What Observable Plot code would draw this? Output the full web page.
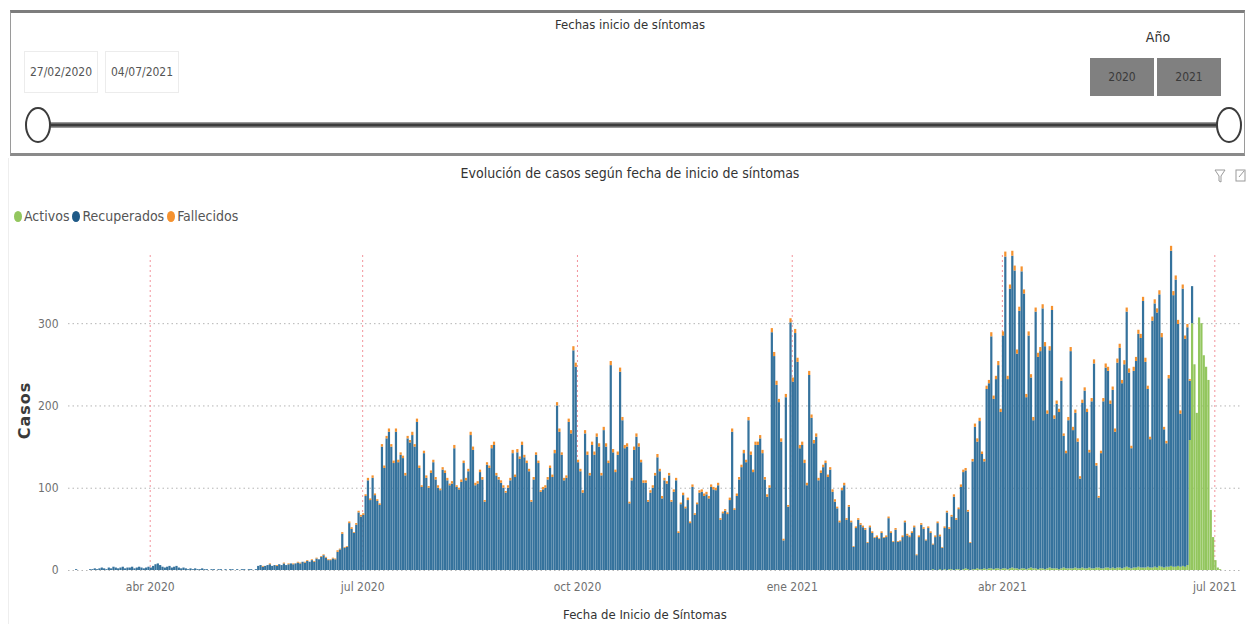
<!DOCTYPE html>
<html lang="es">
<head>
<meta charset="utf-8">
<script src="https://cdn.jsdelivr.net/npm/d3@7"></script>
<script src="https://cdn.jsdelivr.net/npm/@observablehq/plot@0.6"></script>
<style>
  html, body { margin: 0; padding: 0; background: #fff; }
  body { width: 1247px; height: 626px; position: relative; overflow: hidden;
         font-family: "Liberation Sans Narrow", "DejaVu Sans Condensed", "Arial Narrow", sans-serif; color: #333; }
  .abs { position: absolute; white-space: nowrap; }
  #panel { position: absolute; left: 10px; top: 10px; width: 1233px; height: 140px;
           border-top: 3px solid #7d7d7d; border-bottom: 3px solid #8a8a8a;
           border-left: 1px solid #9a9a9a; border-right: 1px solid #9a9a9a; }
  .datebox { position: absolute; top: 51px; height: 40px; width: 72px; border: 1px solid #ececec;
             font-size: 12px; color: #555; display: flex; align-items: center; justify-content: center; }
  .btn { position: absolute; top: 58px; height: 38px; width: 64px; background: #808080;
         font-size: 12px; color: #3a3a3a; display: flex; align-items: center; justify-content: center; }
  .legend { position: absolute; top: 208px; left: 14px; font-size: 14px; color: #555; display: flex; align-items: center; }
  .legend span.dot { display: inline-block; width: 8px; height: 11px; border-radius: 50%; margin: 0 2px 0 3px; }
  #chart { position: absolute; left: 0; top: 235px; }
</style>
</head>
<body>
<script>
// ---------- Datos ----------
// Recuperados (casos por fecha de inicio de síntomas), un valor por día desde inicioRecuperados
const inicioRecuperados = "2020-02-27";
const recuperados = [
  0,0,1,
  // mar 2020
  0,0,0,0,0,1,1,2,1,2,3,2,1,3,2,4,3,2,3,4,2,3,3,4,2,3,4,3,2,3,4,
  // abr 2020
  3,5,7,8,6,4,3,4,5,3,4,5,3,2,3,2,1,2,1,2,1,1,2,1,1,0,1,1,0,1,
  // may 2020
  1,0,1,0,1,1,0,1,0,1,1,0,1,1,0,1,5,6,4,5,6,7,5,6,5,7,6,8,6,7,8,
  // jun 2020
  7,8,9,8,10,9,11,10,12,10,14,13,16,18,15,12,12,14,13,22,25,44,27,28,57,50,45,55,70,65,
  // jul 2020
  67,90,109,85,112,91,84,79,150,124,160,168,150,130,168,131,140,136,115,160,155,164,150,180,124,101,142,112,100,118,131,
  // ago 2020
  110,100,97,122,118,109,103,105,148,101,98,107,130,109,120,164,146,103,105,119,110,83,128,124,148,152,115,110,106,100,94,
  // sep 2020
  100,109,142,113,143,135,152,137,130,120,83,110,140,130,95,98,100,110,124,113,142,200,168,140,109,112,180,166,267,247,
  // oct 2020
  131,120,94,166,140,115,152,140,162,150,115,170,150,130,249,143,119,140,241,182,148,150,81,109,146,162,150,131,106,106,83,
  // nov 2020
  94,100,115,137,120,87,109,105,115,83,95,109,45,80,91,75,85,57,101,67,80,94,95,90,92,87,101,98,97,103,
  // dic 2020
  61,69,72,68,85,168,73,90,110,125,142,131,182,140,119,152,152,160,142,110,89,100,289,260,225,204,156,36,210,77,301,
  // ene 2021
  229,288,253,148,152,130,103,237,185,154,162,109,118,125,130,113,122,95,83,75,58,97,103,61,77,58,28,51,61,55,52,
  // feb 2021
  49,33,52,45,39,40,38,45,39,40,63,45,34,49,34,35,40,58,42,40,45,52,18,40,55,50,36,51,
  // mar 2021
  45,30,40,57,40,27,50,70,49,64,89,60,73,101,118,119,70,33,131,173,154,180,140,130,219,225,282,207,230,247,191,
  // abr 2021
  283,379,231,340,379,362,261,314,361,334,209,283,231,180,312,258,264,316,271,188,264,314,182,200,191,228,160,140,180,264,
  // may 2021
  168,188,154,109,200,216,190,140,203,249,124,85,140,203,243,239,200,216,166,249,267,225,247,310,237,146,239,251,283,279,324,
  // jun 2021
  250,216,156,300,320,310,330,279,168,150,229,383,330,349,294,186,337,277,289,72,45,0,0,0,0,0,0,0,0,0,0,
  // jul 2021
  0,0,0
];
// Fallecidos, un valor por día desde inicioFallecidos
const inicioFallecidos = "2020-05-17";
const fallecidos = [
  0,0,1,0,0,1,0,0,1,0,0,1,0,1,0,
  1,0,1,1,0,1,1,0,1,1,1,0,1,1,1,1,1,1,1,2,1,2,1,1,2,2,1,2,2,2,
  2,2,3,2,3,2,2,2,3,3,3,4,3,3,4,3,3,3,3,3,3,4,3,4,3,2,3,3,2,3,3,
  3,3,2,3,3,3,2,3,4,2,2,3,3,3,3,4,4,3,3,3,3,2,3,3,4,4,3,3,3,3,2,
  3,3,4,3,4,3,4,3,3,3,2,3,3,3,2,3,3,3,3,3,4,4,4,3,3,3,4,4,5,5,
  3,3,3,4,4,3,4,4,4,4,3,4,4,3,5,4,3,4,5,4,4,4,2,3,4,4,4,3,3,3,2,
  3,3,3,4,3,3,3,3,3,2,3,3,2,2,3,2,3,2,3,2,2,3,3,3,3,3,3,3,3,3,
  2,2,2,2,3,4,2,3,3,3,4,3,4,4,3,4,4,4,4,3,3,3,5,5,5,4,4,2,4,2,5,
  5,5,5,4,4,4,3,5,4,4,4,3,3,3,3,3,3,3,3,2,2,3,3,2,2,2,1,2,2,2,2,
  2,1,2,2,1,2,1,2,1,2,2,2,1,2,1,1,2,2,2,2,2,2,1,2,2,2,1,2,
  2,1,2,2,2,1,2,2,2,2,3,2,2,3,3,3,2,1,3,4,4,4,3,3,4,4,5,4,4,5,4,
  5,6,4,5,6,6,5,5,6,5,4,5,4,4,5,5,5,5,5,4,5,5,4,4,4,4,3,3,4,5,
  4,4,4,3,4,4,4,3,4,5,3,2,3,4,5,5,4,4,4,5,5,4,5,5,5,3,5,5,5,5,5,
  5,4,3,5,5,5,5,5,3,3,4,6,5,5,5,4,5,4,4,2
];
// Activos, un valor por día desde inicioActivos
const inicioActivos = "2021-03-01";
const activos = [
  0,1,0,0,1,0,1,0,1,1,0,1,1,0,1,2,1,0,1,1,2,1,1,2,1,2,2,1,2,2,1,
  2,2,1,2,3,2,2,1,2,2,1,2,3,2,2,1,2,2,1,2,3,2,2,2,1,2,3,2,2,2,
  2,3,2,2,3,2,2,3,2,2,3,3,2,2,3,3,2,3,2,3,3,2,3,4,3,2,3,3,4,3,3,
  3,4,3,3,4,3,5,4,3,4,4,5,4,4,5,4,5,4,6,158,300,250,191,307,300,261,247,231,73,40,
  12,3,1,0
];
const series = ["Activos", "Recuperados", "Fallecidos"];
const colores = ["#93c65e", "#35729c", "#f5922f"];
const dominioFechas = ["2020-02-26", "2021-07-12"];
const ticksFechas = ["2020-04-01", "2020-07-01", "2020-10-01", "2021-01-01", "2021-04-01", "2021-07-01"];
const ticksEtiquetas = ["abr 2020", "jul 2020", "oct 2020", "ene 2021", "abr 2021", "jul 2021"];
const ticksCasos = [0, 100, 200, 300];
const maxCasos = 395;

// ---------- Tabla ----------
const filas = [];
function agregar(serie, inicio, valores) {
  const d0 = new Date(inicio);
  valores.forEach((v, i) => filas.push({ fecha: d3.utcDay.offset(d0, i), serie, casos: v }));
}
agregar("Activos", inicioActivos, activos);
agregar("Recuperados", inicioRecuperados, recuperados);
agregar("Fallecidos", inicioFallecidos, fallecidos);

const tickDates = ticksFechas.map(s => new Date(s));
const etiqueta = new Map(tickDates.map((d, i) => [+d, ticksEtiquetas[i]]));
const fontNarrow = '"Liberation Sans Narrow", "DejaVu Sans Condensed", "Arial Narrow", sans-serif';

const chart = Plot.plot({
  width: 1247, height: 360,
  marginLeft: 68, marginRight: 7, marginTop: 10, marginBottom: 25,
  style: { fontFamily: fontNarrow, fontSize: "12px", color: "#707070", background: "transparent" },
  x: { type: "utc", domain: dominioFechas.map(s => new Date(s)), label: null },
  y: { domain: [0, maxCasos], label: null },
  color: { domain: series, range: colores },
  marks: [
    Plot.gridY(ticksCasos, { stroke: "#b5b5b5", strokeOpacity: 1, strokeDasharray: "1.5,3" }),
    Plot.gridX(tickDates, { stroke: "#f2939b", strokeOpacity: 1, strokeDasharray: "2,3", insetTop: 10 }),
    Plot.rectY(filas, { x: "fecha", interval: "day", y: "casos", fill: "serie", order: series, insetRight: 0.12 }),
    Plot.axisX(tickDates, { tickSize: 0, tickPadding: 12, tickFormat: d => etiqueta.get(+d), label: null }),
    Plot.axisY(ticksCasos, { tickSize: 0, tickPadding: 10, label: null })
  ]
});
</script>

<div id="panel"></div>
<div class="abs" style="left:0;width:1260px;top:17px;text-align:center;font-size:13px;color:#333;">Fechas inicio de síntomas</div>
<div class="datebox" style="left:24px;">27/02/2020</div>
<div class="datebox" style="left:105px;">04/07/2021</div>
<div class="abs" style="left:1130px;width:56px;top:29px;text-align:center;font-size:14px;color:#333;">Año</div>
<div class="btn" style="left:1090px;">2020</div>
<div class="btn" style="left:1157px;">2021</div>
<svg class="abs" style="left:0;top:0;" width="1247" height="160">
  <line x1="48" x2="1219" y1="125" y2="125" stroke="#9a9a9a" stroke-width="6"/>
  <line x1="48" x2="1219" y1="125" y2="125" stroke="#3c3c3c" stroke-width="3"/>
  <ellipse cx="38" cy="125" rx="12" ry="17" fill="#fff" stroke="#3c3c3c" stroke-width="2"/>
  <ellipse cx="1229" cy="125" rx="12" ry="17" fill="#fff" stroke="#3c3c3c" stroke-width="2"/>
</svg>

<div class="abs" style="left:8px;top:158px;width:1239px;height:466px;border-left:1px solid #eeeeee;"></div>
<div class="abs" style="left:0;width:1260px;top:165px;text-align:center;font-size:14px;color:#333;">Evolución de casos según fecha de inicio de síntomas</div>
<svg class="abs" style="left:1212px;top:167px;" width="35" height="18">
  <path d="M3 3 H13 L9 9 V15 L7 14 V9 Z" fill="none" stroke="#9a9a9a" stroke-width="1"/>
  <rect x="24" y="3" width="9" height="11" fill="none" stroke="#9a9a9a" stroke-width="1"/>
  <path d="M27 10 L32 4" stroke="#9a9a9a" stroke-width="1"/>
</svg>
<div class="legend">
  <span class="dot" style="background:#93c65e;margin-left:0"></span>Activos
  <span class="dot" style="background:#1f5a87;"></span>Recuperados
  <span class="dot" style="background:#f5922f;"></span>Fallecidos
</div>
<div id="chart"></div>
<div class="abs" style="left:5px;top:395px;width:40px;height:30px;display:flex;align-items:center;justify-content:center;">
  <div style="transform:rotate(-90deg);font-family:'DejaVu Sans',sans-serif;font-weight:bold;font-size:16px;letter-spacing:1px;color:#3a3a3a;">Casos</div>
</div>
<div class="abs" style="left:0;width:1290px;top:607px;text-align:center;font-size:13px;color:#333;">Fecha de Inicio de Síntomas</div>
<script>
  document.getElementById("chart").appendChild(chart);
</script>
</body>
</html>
